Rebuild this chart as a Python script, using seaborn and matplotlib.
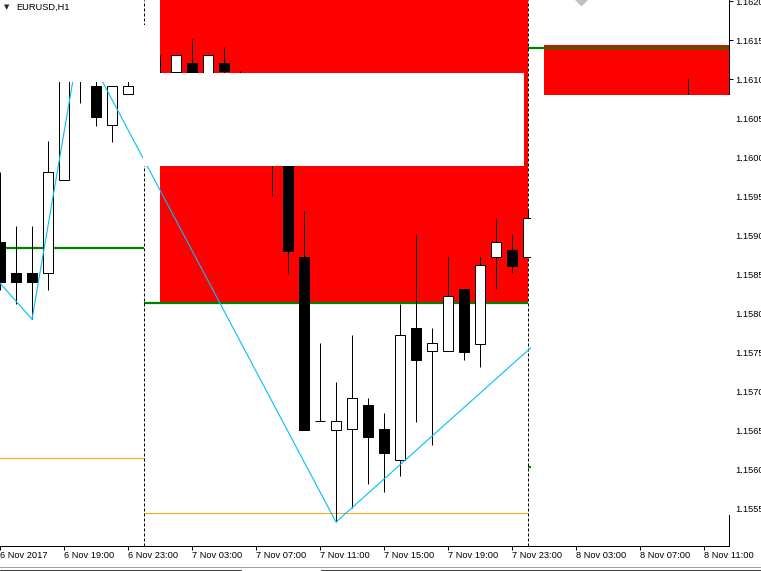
import pandas as pd
import seaborn as sns
import matplotlib.pyplot as plt
from matplotlib.patches import Rectangle
from matplotlib.lines import Line2D
from matplotlib.ticker import FormatStrFormatter

# === style ===
sns.set_theme(style="white")
plt.rcParams['font.family'] = ['Liberation Sans', 'DejaVu Sans']

# === EURUSD H1 bars (bar 0 = 6 Nov 15:00, one bar per hour) ===
bars = list(range(34))
open_ = [1.15891, 1.15851, 1.15851, 1.15851, 1.15971, 1.16118, 1.16091, 1.16041,
         1.16081, 1.16105, 1.16095, 1.16109, 1.16121, 1.16080, 1.16121, 1.16095,
         1.16075, 1.16020, 1.16005, 1.15872, 1.15662, 1.15650, 1.15651, 1.15682,
         1.15651, 1.15612, 1.15781, 1.15751, 1.15751, 1.15831, 1.15760, 1.15872,
         1.15881, 1.15872]
high = [1.15981, 1.15912, 1.15912, 1.16021, 1.16137, 1.16151, 1.16105, 1.16091,
        1.16100, 1.16140, 1.16131, 1.16131, 1.16151, 1.16131, 1.16141, 1.16110,
        1.16090, 1.16050, 1.16010, 1.15931, 1.15762, 1.15712, 1.15772, 1.15691,
        1.15672, 1.15812, 1.15901, 1.15781, 1.15872, 1.15831, 1.15872, 1.15922,
        1.15901, 1.15933]
low = [1.15829, 1.15812, 1.15792, 1.15829, 1.15971, 1.16069, 1.16040, 1.16019,
       1.16081, 1.16100, 1.16040, 1.16070, 1.16075, 1.16070, 1.16085, 1.16060,
       1.16010, 1.15950, 1.15850, 1.15650, 1.15662, 1.15532, 1.15550, 1.15581,
       1.15571, 1.15591, 1.15660, 1.15631, 1.15751, 1.15740, 1.15731, 1.15831,
       1.15851, 1.15872]
close = [1.15840, 1.15840, 1.15840, 1.15981, 1.16124, 1.16100, 1.16051, 1.16091,
         1.16091, 1.16130, 1.16060, 1.16131, 1.16085, 1.16131, 1.16110, 1.16075,
         1.16020, 1.16000, 1.15879, 1.15650, 1.15662, 1.15662, 1.15691, 1.15641,
         1.15621, 1.15772, 1.15740, 1.15762, 1.15822, 1.15750, 1.15862, 1.15891,
         1.15860, 1.15922]

# zigzag vertices
zz_bar = [-4, 2, 5, 21, 35]
zz_price = [1.15931, 1.15792, 1.16151, 1.15532, 1.15789]

# daily levels: (from bar, to bar, price)
green_levels = [(-2, 9, 1.15883), (9, 33, 1.15813), (33, 47, 1.16140), (33, 47, 1.15603)]
orange_levels = [(-2, 9, 1.15614), (9, 33, 1.15544)]

# day separators
separators = [9, 33]

# red zones: (bar from, bar to, price low, price high)
red_zones = [(10, 33, 1.15814, 1.16300), (34, 47, 1.15879, 1.16144)]
# white objects on top: (bar from, bar to, price low, price high)
white_boxes = [(-3, 8.94, 1.16096, 1.16300), (8.94, 9.97, 1.15988, 1.16169),
               (8.94, 32.75, 1.15988, 1.16108)]
white_right = (33.19, 45.94, 1.15541, 1.16080)

arrow_bar, arrow_price = 36.3, 1.16203
stub_bar, stub_lo, stub_hi = 43, 1.16000, 1.16101

tick_bars = list(range(0, 45, 4))
tick_labels = ["6 Nov 2017", "6 Nov 19:00", "6 Nov 23:00", "7 Nov 03:00", "7 Nov 07:00",
               "7 Nov 11:00", "7 Nov 15:00", "7 Nov 19:00", "7 Nov 23:00", "8 Nov 03:00",
               "8 Nov 07:00", "8 Nov 11:00"]

df = pd.DataFrame({"bar": bars, "open": open_, "high": high, "low": low, "close": close})
df["up"] = df["close"] >= df["open"]

# === figure ===
W, H = 761, 571
fig = plt.figure(figsize=(W / 100, H / 100), dpi=100)
fig.patch.set_facecolor("white")
ax = fig.add_axes([0, 25 / H, 729 / W, 546 / H])
ax.set_facecolor("white")
ax.set_xlim(0, 729 / 16)
ax.set_ylim(1.155013, 1.162013)

for x0, x1, p0, p1 in red_zones:
    ax.add_patch(Rectangle((x0, p0), x1 - x0, p1 - p0, facecolor="#FF0000", edgecolor="none", zorder=1))

for x0, x1, p in green_levels:
    ax.hlines(p, x0, x1, color="#008000", lw=1.6, zorder=2)
for x0, x1, p in orange_levels:
    ax.hlines(p, x0, x1, color="#FFA500", lw=0.75, zorder=2)

for s in separators:
    ax.axvline(s, color="black", lw=0.72, ls=(0, (3, 2)), zorder=2.2)

# candles
ax.vlines(df["bar"], df["low"], df["high"], color="black", lw=0.72, zorder=3)
ax.vlines(stub_bar, stub_lo, stub_hi, color="black", lw=0.72, zorder=3)
body_lo = df[["open", "close"]].min(axis=1)
body_hi = df[["open", "close"]].max(axis=1)
ax.bar(df["bar"], body_hi - body_lo, bottom=body_lo, width=0.625,
       color=["white" if u else "black" for u in df["up"]],
       edgecolor="black", linewidth=0.72, zorder=3.1)

sns.lineplot(x=zz_bar, y=zz_price, sort=False, estimator=None, color="#00BFFF",
             lw=0.8, ax=ax, zorder=4)

ax.plot([arrow_bar], [arrow_price], marker="D", ms=6.1, color="#C0C0C0", ls="none", zorder=4)

for x0, x1, p0, p1 in white_boxes:
    ax.add_patch(Rectangle((x0, p0), x1 - x0, p1 - p0, facecolor="white", edgecolor="none", zorder=5))
x0, x1, p0, p1 = white_right
ax.add_patch(Rectangle((x0, p0), x1 - x0, p1 - p0, facecolor="white", edgecolor="none",
                       zorder=5, clip_on=False))

# axes
for side in ["top", "left"]:
    ax.spines[side].set_visible(False)
for side in ["right", "bottom"]:
    ax.spines[side].set_color("black")
    ax.spines[side].set_linewidth(0.72)
    ax.spines[side].set_zorder(4.5)
ax.yaxis.tick_right()
ax.set_yticks([1.1555 + 0.0005 * k for k in range(14)])
ax.yaxis.set_major_formatter(FormatStrFormatter("%.4f"))
ax.tick_params(axis="y", direction="out", length=2.9, width=0.72, pad=1.4,
               labelsize=6.7, colors="black", right=True, left=False)
ax.set_xticks(tick_bars)
ax.set_xticklabels(tick_labels, ha="left")
ax.tick_params(axis="x", direction="out", length=2.9, width=0.72, pad=0.8,
               labelsize=6.7, colors="black", bottom=True)
ax.grid(False)
ax.set_xlabel("")
ax.set_ylabel("")

# header
fig.text(4 / W, 1 - 7.5 / H, "\u25BC", fontsize=5, family=["DejaVu Sans"], va="center", ha="left")
fig.text(16 / W, 1 - 7 / H, "EURUSD,H1", fontsize=6.7, va="center", ha="left", color="black")

# bottom tab strip
fig.add_artist(Line2D([0, 1], [1 - 567 / H] * 2, transform=fig.transFigure, color="#A0A0A0", lw=0.72))
fig.add_artist(Line2D([0, 241 / W], [1 - 570 / H] * 2, transform=fig.transFigure, color="#404040", lw=0.72))
fig.add_artist(Line2D([321 / W, 1], [1 - 570 / H] * 2, transform=fig.transFigure, color="#404040", lw=0.72))

fig.savefig("out.png", dpi=100)
